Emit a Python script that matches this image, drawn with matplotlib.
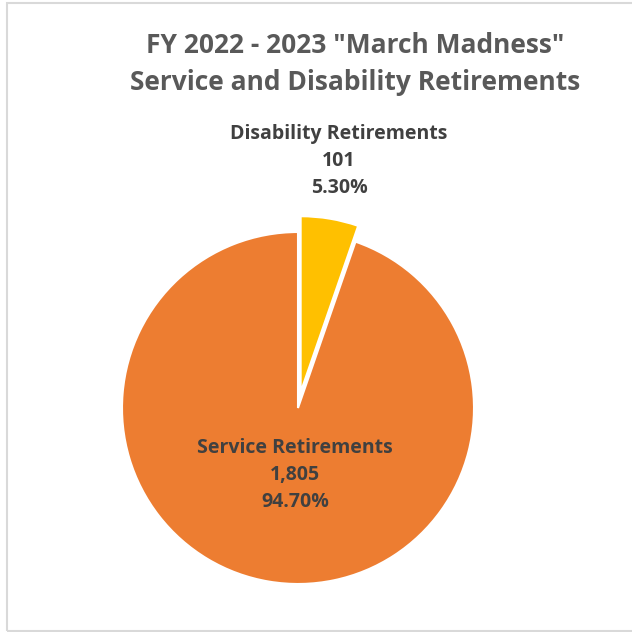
import matplotlib.pyplot as plt
from matplotlib.patches import Rectangle

plt.rcParams['font.family'] = ['Open Sans', 'DejaVu Sans']

# retirement counts for the period
categories = ["Disability Retirements", "Service Retirements"]
counts = [101, 1805]
shares = [5.30, 94.70]
colors = ["#FFC000", "#ED7D31"]

H = 632
fig = plt.figure(figsize=(6.32, 6.32), dpi=100)
ax = fig.add_axes([0, 0, 1, 1])

# chart area frame
fig.patches.append(Rectangle((7 / H, 1 - 631 / H), 1, 628 / H,
                             transform=fig.transFigure, fill=False,
                             edgecolor="#D9D9D9", linewidth=1.5))

ax.pie(counts, colors=colors, startangle=90, counterclock=False,
       center=(298, H - 408), radius=176, explode=[16, 0],
       wedgeprops=dict(edgecolor="white", linewidth=1.5))
ax.set_xlim(0, H)
ax.set_ylim(0, H)
ax.set_aspect("equal")
ax.axis("off")

ax.text(355, H - 64, 'FY 2022 - 2023 "March Madness"\nService and Disability Retirements',
        ha="center", va="center", fontsize=19, fontweight="bold",
        color="#595959", linespacing=1.45)

label_pos = [(339, 161), (295, 475)]
for name, n, pct, (x, y) in zip(categories, counts, shares, label_pos):
    ax.text(x, H - y, f"{name}\n{n:,}\n{pct:.2f}%", ha="center", va="center",
            fontsize=14, fontweight="bold", color="#404040", linespacing=1.45)

fig.savefig("out.png", dpi=100, facecolor="white")
